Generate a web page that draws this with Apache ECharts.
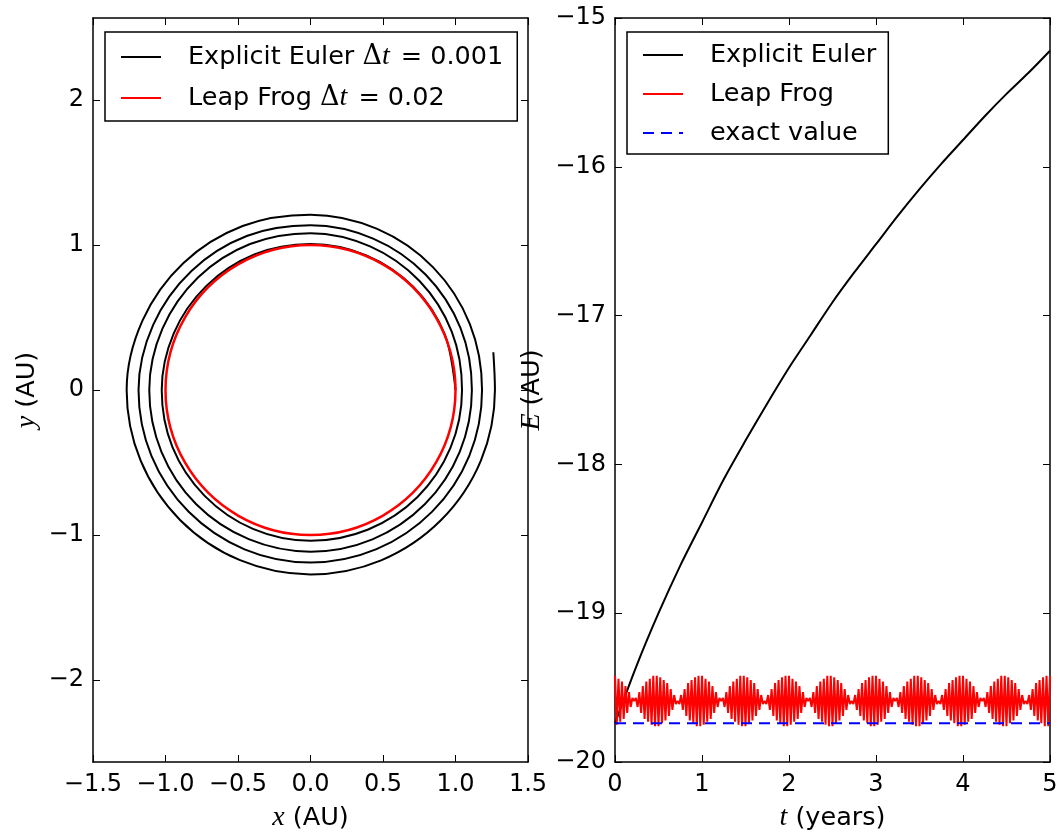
<!DOCTYPE html>
<html>
<head>
<meta charset="utf-8">
<script src="https://cdn.jsdelivr.net/npm/echarts@6/dist/echarts.min.js"></script>
<style>
  html, body { margin: 0; padding: 0; background: #ffffff; }
  #chart { width: 1064px; height: 833px; }
</style>
</head>
<body>
<div id="chart"></div>
<script>
// ---- Orbit (left panel): positions in AU ----
// Explicit Euler, dt = 0.001: outward spiral, one point every 22.5 degrees
const eulerOrbitX = [
   1.000,  0.926,  0.710,  0.385,  0.000, -0.387, -0.718, -0.943,
  -1.026, -0.952, -0.730, -0.397,  0.000,  0.398,  0.738,  0.965,
   1.045,  0.974,  0.752,  0.411,  0.000, -0.417, -0.776, -1.021,
  -1.112, -1.028, -0.788, -0.426,  0.000,  0.427,  0.788,  1.029,
   1.113,  1.034,  0.795,  0.432,  0.000, -0.440, -0.821, -1.085,
  -1.186, -1.097, -0.840, -0.455,  0.000,  0.455,  0.839,  1.095,
   1.183,  1.099,  0.846,  0.460,  0.000, -0.468, -0.876, -1.158,
  -1.268, -1.172, -0.898, -0.486,  0.000,  0.487,  0.899,  1.175,
   1.272,  1.261
];
const eulerOrbitY = [
   0.000,  0.383,  0.710,  0.929,  1.007,  0.935,  0.718,  0.391,
   0.000, -0.394, -0.730, -0.958, -1.040, -0.962, -0.738, -0.400,
   0.000,  0.403,  0.752,  0.991,  1.082,  1.007,  0.776,  0.423,
   0.000, -0.426, -0.788, -1.029, -1.115, -1.030, -0.788, -0.426,
   0.000,  0.428,  0.795,  1.044,  1.136,  1.062,  0.821,  0.449,
   0.000, -0.454, -0.840, -1.099, -1.190, -1.098, -0.839, -0.454,
   0.000,  0.455,  0.846,  1.111,  1.209,  1.131,  0.876,  0.480,
   0.000, -0.486, -0.898, -1.174, -1.272, -1.175, -0.899, -0.487,
   0.000,  0.260
];
// Leap Frog, dt = 0.02: closed circle of radius 1 (every 30 degrees, short overlap at the seam)
const leapOrbitX = [0.999, 1, 0.866, 0.5, 0, -0.5, -0.866, -1, -0.866, -0.5, 0, 0.5, 0.866, 1, 0.999];
const leapOrbitY = [-0.035, 0, 0.5, 0.866, 1, 0.866, 0.5, 0, -0.5, -0.866, -1, -0.866, -0.5, 0, 0.035];

// ---- Energy (right panel) ----
const eulerTimes  = [0, 0.25, 0.5, 0.75, 1.0, 1.25, 1.5, 1.75, 2.0, 2.25, 2.5,
                     2.75, 3.0, 3.25, 3.5, 3.75, 4.0, 4.25, 4.5, 4.75, 5.0];
const eulerEnergy = [-19.74, -19.35, -19.00, -18.68, -18.39, -18.10, -17.84, -17.59,
                     -17.35, -17.13, -16.91, -16.71, -16.52, -16.33, -16.15, -15.98,
                     -15.82, -15.66, -15.51, -15.37, -15.22];

// Leap Frog energy, one value per step of LEAP_DT years
const LEAP_DT = 0.02;
const leapEnergy = [
  -19.42, -19.75, -19.44, -19.73, -19.46, -19.71, -19.49, -19.67, -19.53, -19.63,
  -19.57, -19.59, -19.57, -19.63, -19.53, -19.67, -19.49, -19.71, -19.46, -19.73,
  -19.44, -19.75, -19.42, -19.76, -19.42, -19.76, -19.43, -19.74, -19.45, -19.72,
  -19.47, -19.69, -19.51, -19.65, -19.55, -19.61, -19.59, -19.61, -19.55, -19.65,
  -19.51, -19.69, -19.47, -19.72, -19.45, -19.74, -19.43, -19.76, -19.42, -19.76,
  -19.42, -19.75, -19.44, -19.73, -19.46, -19.71, -19.49, -19.67, -19.53, -19.63,
  -19.57, -19.59, -19.57, -19.63, -19.53, -19.67, -19.49, -19.71, -19.46, -19.73,
  -19.44, -19.75, -19.42, -19.76, -19.42, -19.76, -19.43, -19.74, -19.45, -19.72,
  -19.47, -19.69, -19.51, -19.65, -19.55, -19.61, -19.59, -19.61, -19.55, -19.65,
  -19.51, -19.69, -19.47, -19.72, -19.45, -19.74, -19.43, -19.76, -19.42, -19.76,
  -19.42, -19.75, -19.44, -19.73, -19.46, -19.71, -19.49, -19.67, -19.53, -19.63,
  -19.57, -19.59, -19.57, -19.63, -19.53, -19.67, -19.49, -19.71, -19.46, -19.73,
  -19.44, -19.75, -19.42, -19.76, -19.42, -19.76, -19.43, -19.74, -19.45, -19.72,
  -19.47, -19.69, -19.51, -19.65, -19.55, -19.61, -19.59, -19.61, -19.55, -19.65,
  -19.51, -19.69, -19.47, -19.72, -19.45, -19.74, -19.43, -19.76, -19.42, -19.76,
  -19.42, -19.75, -19.44, -19.73, -19.46, -19.71, -19.49, -19.67, -19.53, -19.63,
  -19.57, -19.59, -19.57, -19.63, -19.53, -19.67, -19.49, -19.71, -19.46, -19.73,
  -19.44, -19.75, -19.42, -19.76, -19.42, -19.76, -19.43, -19.74, -19.45, -19.72,
  -19.47, -19.69, -19.51, -19.65, -19.55, -19.61, -19.59, -19.61, -19.55, -19.65,
  -19.51, -19.69, -19.47, -19.72, -19.45, -19.74, -19.43, -19.76, -19.42, -19.76,
  -19.42, -19.75, -19.44, -19.73, -19.46, -19.71, -19.49, -19.67, -19.53, -19.63,
  -19.57, -19.59, -19.57, -19.63, -19.53, -19.67, -19.49, -19.71, -19.46, -19.73,
  -19.44, -19.75, -19.42, -19.76, -19.42, -19.76, -19.43, -19.74, -19.45, -19.72,
  -19.47, -19.69, -19.51, -19.65, -19.55, -19.61, -19.59, -19.61, -19.55, -19.65,
  -19.51, -19.69, -19.47, -19.72, -19.45, -19.74, -19.43, -19.76, -19.42, -19.76,
  -19.42
];

// Exact (constant) energy of the circular orbit
const exactTimes  = [0, 5];
const exactEnergy = [-19.739, -19.739];

// Tick values
const orbitYTicks = [-2, -1, 0, 1, 2];
const ORBIT_Y_LIMIT = 2.566;

// Series names (legend entries)
const NAMES = {
  eulerOrbit: 'Explicit Euler \u0394t = 0.001',
  leapOrbit: 'Leap Frog \u0394t = 0.02',
  eulerEnergy: 'Explicit Euler',
  leapEnergy: 'Leap Frog',
  exact: 'exact value'
};

const zip = (xs, ys) => xs.map((x, i) => [x, ys[i]]);
const leapTimes = leapEnergy.map((_, i) => +(i * LEAP_DT).toFixed(2));

const SANS = 'DejaVu Sans';
const MATH = 'Liberation Serif';
const TICK_SIZE = 24;
const TEXT_SIZE = 25.5;
const minusSign = s => String(s).replace('-', '\u2212');
const mathRich = {
  i: { fontFamily: MATH, fontStyle: 'italic', fontSize: 28, color: '#000' },
  d: { fontFamily: 'DejaVu Serif', fontSize: 27, color: '#000' },
  lt: { fontFamily: MATH, fontStyle: 'italic', fontSize: 28, color: '#000', padding: [0, 3, 0, 0] },
  g: { width: 22 }
};

function frameAxis(extra) {
  return Object.assign({
    type: 'value',
    axisLine: { show: true, onZero: false, lineStyle: { color: '#000', width: 1.5 } },
    axisTick: { show: true, inside: true, length: 7, lineStyle: { color: '#000', width: 1 } },
    splitLine: { show: false },
    axisLabel: { color: '#000', fontFamily: SANS, fontSize: TICK_SIZE, margin: 9 },
    nameTextStyle: { color: '#000', fontFamily: SANS, fontSize: TEXT_SIZE, rich: mathRich }
  }, extra);
}
function mirror(base) {
  const a = frameAxis(base);
  a.axisLabel = { show: false };
  a.name = '';
  return a;
}

const orbitX = {
  gridIndex: 0, min: -1.5, max: 1.5, interval: 0.5,
  axisLabel: { color: '#000', fontFamily: SANS, fontSize: TICK_SIZE, margin: 11,
               formatter: v => minusSign(v.toFixed(1)) }
};
const orbitY = {
  gridIndex: 0, min: -ORBIT_Y_LIMIT, max: ORBIT_Y_LIMIT,
  axisTick: { show: true, inside: true, length: 7, customValues: orbitYTicks,
              lineStyle: { color: '#000', width: 1 } },
  axisLabel: { color: '#000', fontFamily: SANS, fontSize: TICK_SIZE, margin: 9,
               customValues: orbitYTicks, formatter: v => minusSign(v) }
};
const energyX = {
  gridIndex: 1, min: 0, max: 5, interval: 1,
  axisLabel: { color: '#000', fontFamily: SANS, fontSize: TICK_SIZE, margin: 11 }
};
const energyY = {
  gridIndex: 1, min: -20, max: -15, interval: 1,
  axisLabel: { color: '#000', fontFamily: SANS, fontSize: TICK_SIZE, margin: 9,
               formatter: v => minusSign(v) }
};

const legendBase = {
  show: true, orient: 'vertical',
  itemWidth: 40, itemHeight: 14,
  borderColor: '#000', borderWidth: 1.5, backgroundColor: '#fff',
  itemStyle: { opacity: 0 },
  textStyle: { color: '#000', fontFamily: SANS, fontSize: TEXT_SIZE, rich: mathRich }
};

const chart = echarts.init(document.getElementById('chart'), null, { renderer: 'canvas' });
chart.setOption({
  animation: false,
  backgroundColor: '#ffffff',
  grid: [
    { left: 93, top: 18, width: 435, height: 744, outerBoundsMode: 'none', containLabel: false },
    { left: 615, top: 18, width: 435, height: 744, outerBoundsMode: 'none', containLabel: false }
  ],
  xAxis: [
    frameAxis(Object.assign({ position: 'bottom', name: '{i|x} (AU)', nameLocation: 'middle', nameGap: 42 }, orbitX)),
    mirror(Object.assign({ position: 'top' }, orbitX)),
    frameAxis(Object.assign({ position: 'bottom', name: '{i|t} (years)', nameLocation: 'middle', nameGap: 42 }, energyX)),
    mirror(Object.assign({ position: 'top' }, energyX))
  ],
  yAxis: [
    frameAxis(Object.assign({ position: 'left', name: '{i|y} (AU)', nameLocation: 'middle', nameGap: 52 }, orbitY)),
    mirror(Object.assign({ position: 'right' }, orbitY)),
    frameAxis(Object.assign({ position: 'left', name: '{i|E} (AU)', nameLocation: 'middle', nameGap: 69 }, energyY)),
    mirror(Object.assign({ position: 'right' }, energyY))
  ],
  legend: [
    Object.assign({}, legendBase, {
      left: 105, top: 32, padding: [11, 14, 9, 15], itemGap: 13,
      data: [NAMES.eulerOrbit, NAMES.leapOrbit],
      formatter: n => '{g|}' + n.replace('\u0394t', '{d|\u0394}{lt|t}')
    }),
    Object.assign({}, legendBase, {
      left: 627, top: 32, padding: [10, 12, 8, 15], itemGap: 13,
      data: [NAMES.eulerEnergy, NAMES.leapEnergy, NAMES.exact],
      formatter: n => '{g|}' + n
    })
  ],
  series: [
    {
      name: NAMES.eulerOrbit, type: 'line', xAxisIndex: 0, yAxisIndex: 0,
      data: zip(eulerOrbitX, eulerOrbitY), smooth: 0.343, symbol: 'none',
      lineStyle: { color: '#000', width: 2 }, itemStyle: { color: '#000' }
    },
    {
      name: NAMES.leapOrbit, type: 'line', xAxisIndex: 0, yAxisIndex: 0,
      data: zip(leapOrbitX, leapOrbitY), smooth: 0.351, symbol: 'none',
      lineStyle: { color: '#ff0000', width: 2.5 }, itemStyle: { color: '#ff0000' }
    },
    {
      name: NAMES.eulerEnergy, type: 'line', xAxisIndex: 2, yAxisIndex: 2,
      data: zip(eulerTimes, eulerEnergy), smooth: 0.3, symbol: 'none',
      lineStyle: { color: '#000', width: 2 }, itemStyle: { color: '#000' }
    },
    {
      name: NAMES.leapEnergy, type: 'line', xAxisIndex: 2, yAxisIndex: 2,
      data: zip(leapTimes, leapEnergy), symbol: 'none',
      lineStyle: { color: '#ff0000', width: 2 }, itemStyle: { color: '#ff0000' }
    },
    {
      name: NAMES.exact, type: 'line', xAxisIndex: 2, yAxisIndex: 2,
      data: zip(exactTimes, exactEnergy), symbol: 'none',
      lineStyle: { color: '#0000ff', width: 2, type: [11, 7] }, itemStyle: { color: '#0000ff' }
    }
  ]
});
</script>
</body>
</html>
